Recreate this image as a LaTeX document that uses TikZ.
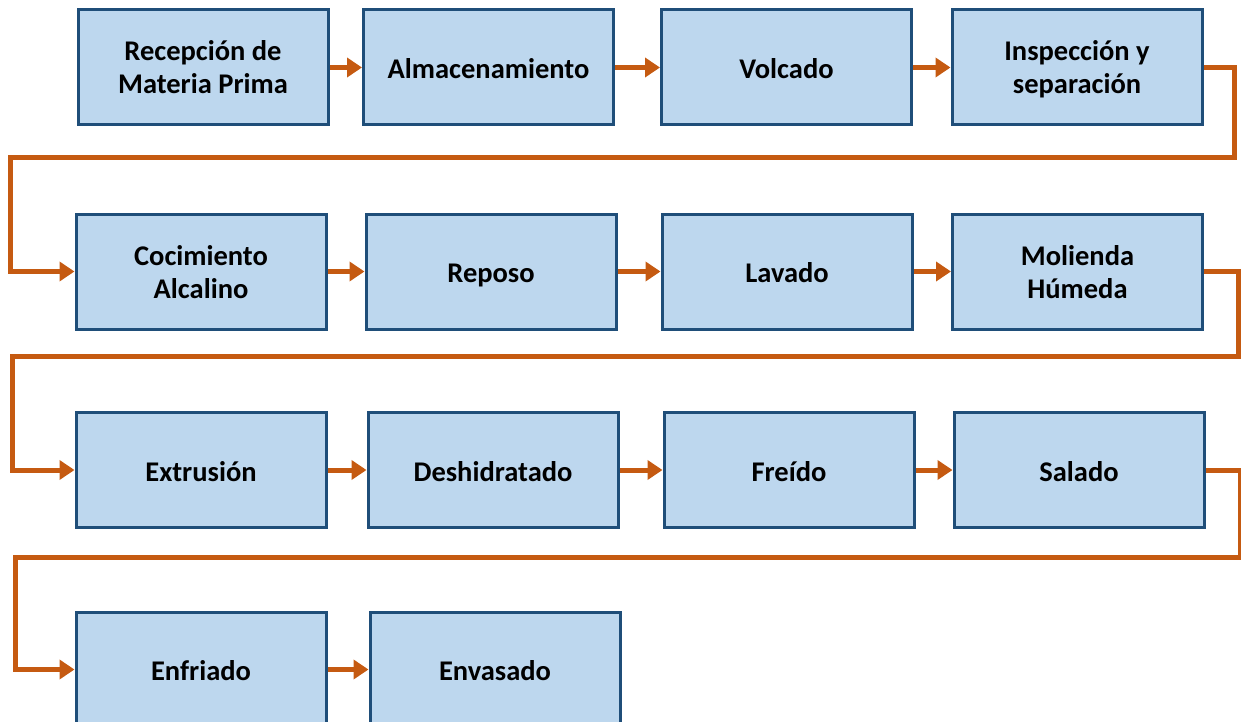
\documentclass[tikz,border=0pt]{standalone}
\usepackage{fontspec}
\setmainfont{Carlito}
\usetikzlibrary{arrows.meta}
\definecolor{kasten}{HTML}{BDD7EE}
\definecolor{rand}{HTML}{1F4E79}
\definecolor{pfeil}{HTML}{C55A11}
\newcommand{\boxstrut}{\rule[-6pt]{0pt}{34pt}}
\newcommand{\topstrut}{\rule[-6pt]{0pt}{32pt}}
\begin{document}
\begin{tikzpicture}[x=1pt,y=-1pt,
  stepbox/.style={draw=rand,line width=3pt,fill=kasten,minimum width=250pt,minimum height=115pt,
    align=center,font=\fontsize{28.5}{33}\selectfont\bfseries,
    execute at begin node=\boxstrut,execute at end node=\boxstrut},
  flow/.style={draw=pfeil,line width=5pt,-{Triangle[length=15pt,width=19pt]}}]
  \useasboundingbox (0,0) rectangle (1241,722);

  % Fila 1
  \node[stepbox] (r1a) at (203,67.5) {\topstrut Recepción de\\Materia Prima};
  \node[stepbox] (r1b) at (488.5,67.5) {Almacenamiento};
  \node[stepbox] (r1c) at (786.5,67.5) {Volcado};
  \node[stepbox] (r1d) at (1077,67.5) {\topstrut Inspección y\\separación};

  % Fila 2
  \node[stepbox] (r2a) at (201,271.5) {\topstrut Cocimiento\\Alcalino};
  \node[stepbox] (r2b) at (491,271.5) {Reposo};
  \node[stepbox] (r2c) at (787,271.5) {Lavado};
  \node[stepbox] (r2d) at (1077.5,271.5) {\topstrut Molienda\\Húmeda};

  % Fila 3
  \node[stepbox] (r3a) at (201,470) {Extrusión};
  \node[stepbox] (r3b) at (493,470) {Deshidratado};
  \node[stepbox] (r3c) at (789,470) {Freído};
  \node[stepbox] (r3d) at (1079,470) {Salado};

  % Fila 4
  \node[stepbox] (r4a) at (201,669.5) {Enfriado};
  \node[stepbox] (r4b) at (495,669.5) {Envasado};

  % Flechas dentro de las filas
  \draw[flow] (r1a) -- (r1b);
  \draw[flow] (r1b) -- (r1c);
  \draw[flow] (r1c) -- (r1d);
  \draw[flow] (r2a) -- (r2b);
  \draw[flow] (r2b) -- (r2c);
  \draw[flow] (r2c) -- (r2d);
  \draw[flow] (r3a) -- (r3b);
  \draw[flow] (r3b) -- (r3c);
  \draw[flow] (r3c) -- (r3d);
  \draw[flow] (r4a) -- (r4b);

  % Flechas de una fila a la siguiente
  \draw[flow] (r1d.east) -- ++(31,0) |- (10,158) |- (r2a.west);
  \draw[flow] (r2d.east) -- ++(34,0) |- (12,356) |- (r3a.west);
  \draw[flow] (r3d.east) -- ++(35,0) |- (15,557) |- (r4a.west);
\end{tikzpicture}
\end{document}
